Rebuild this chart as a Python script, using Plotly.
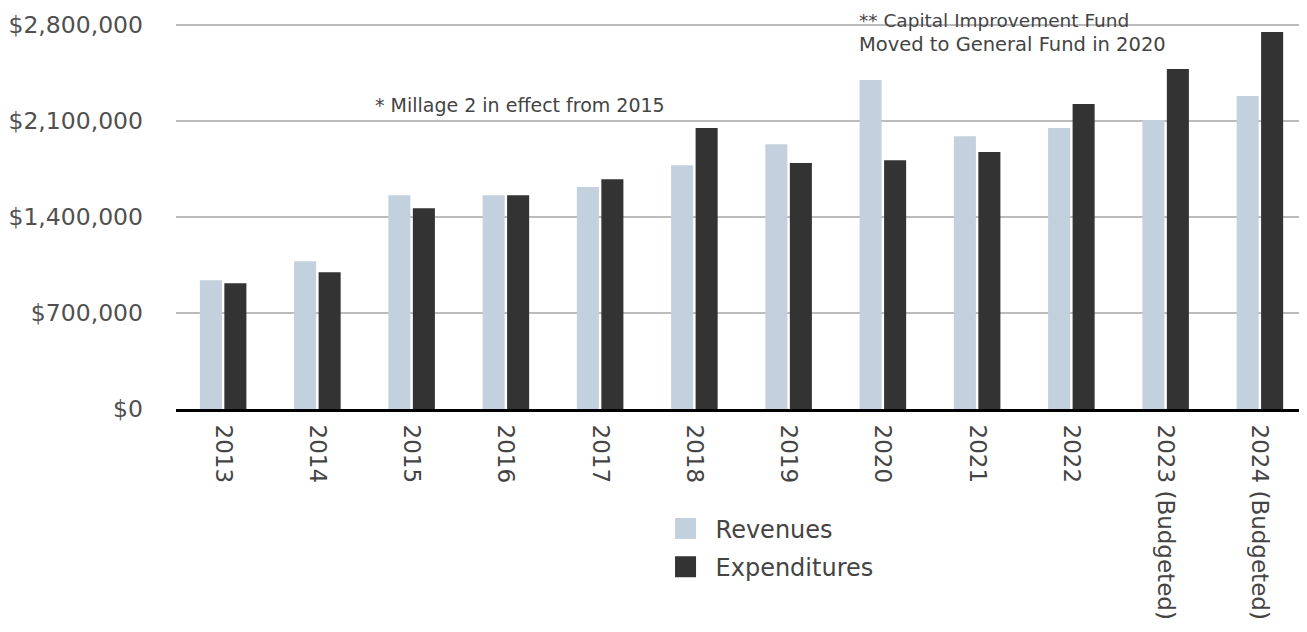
import plotly.graph_objects as go

categories = ["2013", "2014", "2015", "2016", "2017", "2018", "2019", "2020",
              "2021", "2022", "2023 (Budgeted)", "2024 (Budgeted)"]
revenues = [938000, 1077000, 1558000, 1558000, 1617000, 1777000, 1930000, 2397000,
            1988000, 2047000, 2105000, 2280000]
expenditures = [917000, 997000, 1463000, 1558000, 1675000, 2047000, 1792000, 1813000,
                1872000, 2222000, 2477000, 2747000]
y_ticks = [0, 700000, 1400000, 2100000, 2800000]
y_tick_labels = ["$0", "$700,000", "$1,400,000", "$2,100,000", "$2,800,000"]

REV_COLOR = "#c3d0dd"
EXP_COLOR = "#333333"
FONT = "DejaVu Sans"
TEXT_COLOR = "#444444"

fig = go.Figure()
fig.add_trace(go.Bar(x=categories, y=revenues, name="Revenues",
                     marker=dict(color=REV_COLOR, line=dict(width=0)), showlegend=False))
fig.add_trace(go.Bar(x=categories, y=expenditures, name="Expenditures",
                     marker=dict(color=EXP_COLOR, line=dict(width=0)), showlegend=False))
# legend entries with larger square symbols
fig.add_trace(go.Scatter(x=[None], y=[None], mode="markers", name="Revenues",
                         legendgroup="a",
                         marker=dict(symbol="square", size=16, color=REV_COLOR,
                                     line=dict(color=REV_COLOR, width=5))))
fig.add_trace(go.Scatter(x=[None], y=[None], mode="markers", name="Expenditures",
                         legendgroup="b",
                         marker=dict(symbol="square", size=16, color=EXP_COLOR,
                                     line=dict(color=EXP_COLOR, width=5))))

fig.update_layout(
    width=1299, height=624,
    margin=dict(l=166, r=0, t=14, b=223),
    paper_bgcolor="white", plot_bgcolor="white",
    barmode="group", bargap=0.48, bargroupgap=0.1,
    font=dict(family=FONT, color=TEXT_COLOR),
    legend=dict(x=0.424, xanchor="left", y=-0.252, yanchor="top",
                font=dict(size=24, color=TEXT_COLOR), tracegroupgap=4,
                itemwidth=50, bgcolor="rgba(0,0,0,0)"),
    xaxis=dict(type="category", tickangle=90, tickfont=dict(size=23, color=TEXT_COLOR),
               showline=True, linecolor="black", linewidth=3, ticks="",
               showgrid=False, ticklabelstandoff=8),
    yaxis=dict(range=[0, 2820000], tickvals=y_ticks, ticktext=y_tick_labels,
               tickfont=dict(size=23.5, color="#505050"), showgrid=True,
               gridcolor="#bcbcbc", gridwidth=2, zeroline=False, showline=False,
               ticks="", ticklabelstandoff=32),
    annotations=[
        dict(text="* Millage 2 in effect from 2015", xref="paper", yref="y",
             x=0.434, y=2215000, xanchor="right", yanchor="middle", showarrow=False,
             font=dict(size=19, color=TEXT_COLOR)),
        dict(text="** Capital Improvement Fund", xref="paper", yref="paper",
             x=0.603, y=1.005, xanchor="left", yanchor="middle", showarrow=False,
             borderpad=0, font=dict(size=18.5, color=TEXT_COLOR)),
        dict(text="Moved to General Fund in 2020", xref="paper", yref="paper",
             x=0.603, y=0.943, xanchor="left", yanchor="middle", showarrow=False,
             borderpad=0, font=dict(size=19.5, color=TEXT_COLOR)),
    ],
)

fig.write_html("out.html")
